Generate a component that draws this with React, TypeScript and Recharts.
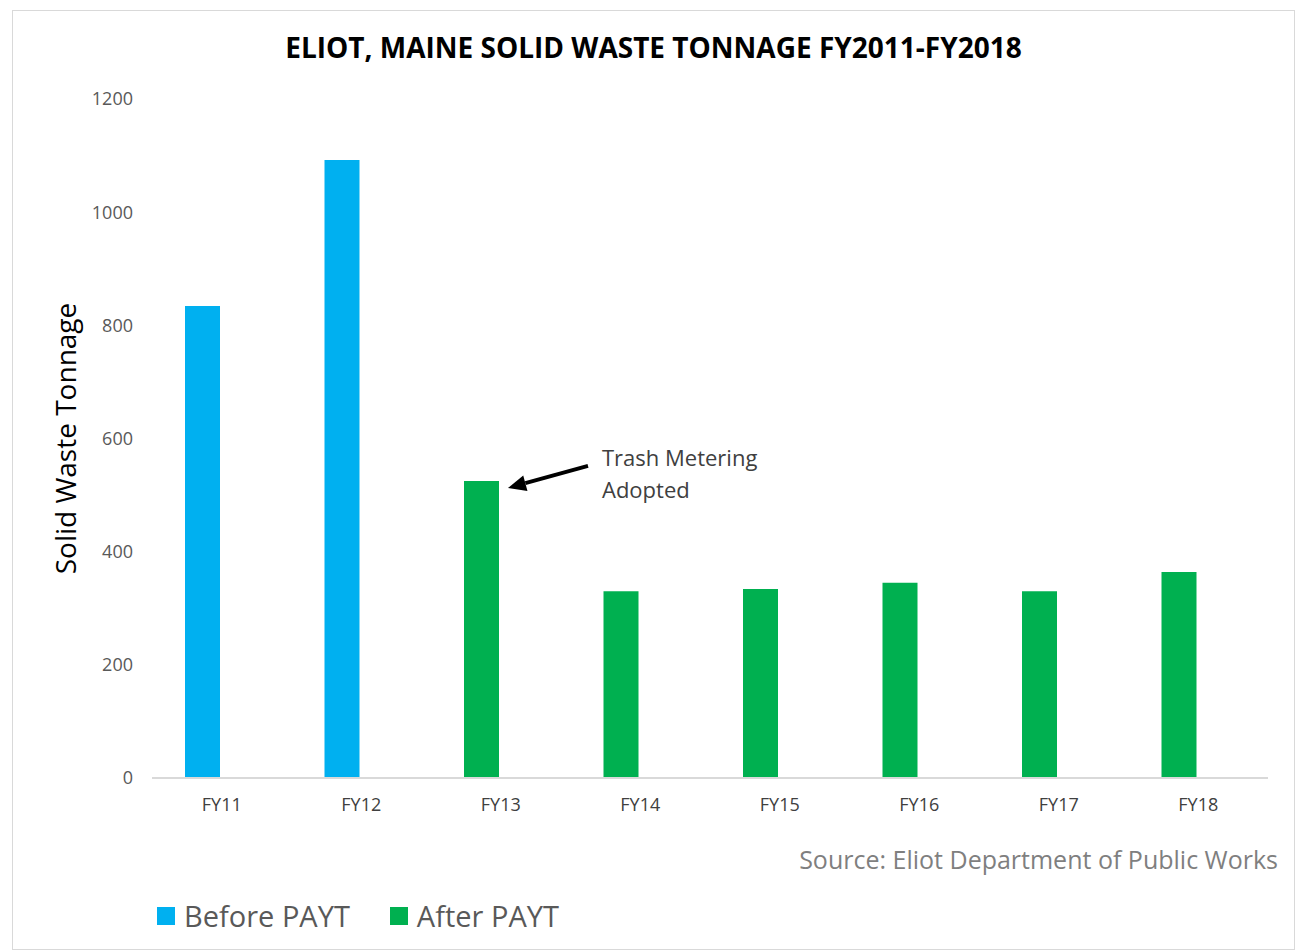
import React from "react";
import { Bar, BarChart, XAxis, YAxis, LabelList, Label } from "recharts";

const categories = ["FY11", "FY12", "FY13", "FY14", "FY15", "FY16", "FY17", "FY18"];
const beforePayt = [834, 1092, null, null, null, null, null, null];
const afterPayt = [null, null, 525, 330, 334, 345, 330, 364];
const yTicks = [0, 200, 400, 600, 800, 1000, 1200];
const annotatedCategory = "FY13";
const annotationLines = ["Trash Metering", "Adopted"];

const data = categories.map((name, i) => ({
  name,
  before: beforePayt[i],
  after: afterPayt[i],
}));

const FONT = "'Open Sans', sans-serif";
const BLUE = "#00b0f0";
const GREEN = "#00b050";

const legendItems = [
  { name: "Before PAYT", color: BLUE },
  { name: "After PAYT", color: GREEN },
];

const annotatedValue = afterPayt[categories.indexOf(annotatedCategory)];

// arrow + note pointing at the top-right corner of the annotated bar
function Annotation(props: any) {
  const { x, y, width, value } = props;
  if (value !== annotatedValue) return null;
  const tipX = x + width + 9;
  const tipY = y + 7;
  const tailX = x + width + 89;
  const tailY = y - 15;
  const dx = tipX - tailX;
  const dy = tipY - tailY;
  const len = Math.sqrt(dx * dx + dy * dy);
  const ux = dx / len;
  const uy = dy / len;
  const headLen = 18;
  const headW = 8;
  const bx = tipX - ux * headLen;
  const by = tipY - uy * headLen;
  const p1 = `${tipX},${tipY}`;
  const p2 = `${bx - uy * headW},${by + ux * headW}`;
  const p3 = `${bx + uy * headW},${by - ux * headW}`;
  return (
    <g>
      <line x1={tailX} y1={tailY} x2={bx} y2={by} stroke="#000" strokeWidth={4} />
      <polygon points={`${p1} ${p2} ${p3}`} fill="#000" />
      <text x={x + width + 103} y={y - 15} fontFamily={FONT} fontSize={22} fill="#404040">
        {annotationLines[0]}
      </text>
      <text x={x + width + 103} y={y + 17} fontFamily={FONT} fontSize={22} fill="#404040">
        {annotationLines[1]}
      </text>
    </g>
  );
}

export default function App() {
  return (
    <div
      style={{
        position: "absolute",
        left: 12,
        top: 10,
        width: 1281,
        height: 938,
        border: "1px solid #d9d9d9",
        background: "#fff",
        fontFamily: FONT,
      }}
    >
      <div
        style={{
          position: "absolute",
          left: 0,
          right: 0,
          top: 18,
          textAlign: "center",
          fontSize: 28,
          fontWeight: 700,
          color: "#000",
          lineHeight: "36px",
        }}
      >
        ELIOT, MAINE SOLID WASTE TONNAGE FY2011-FY2018
      </div>
      <BarChart
        width={1281}
        height={938}
        data={data}
        barGap={3}
        margin={{ top: 88, right: 26, bottom: 141, left: 0 }}
      >
        <XAxis
          dataKey="name"
          height={30}
          tickLine={false}
          tickSize={0}
          tickMargin={20}
          axisLine={{ stroke: "#d9d9d9", strokeWidth: 2 }}
          tick={{ fontFamily: FONT, fontSize: 18, fill: "#404040" }}
        />
        <YAxis
          width={139}
          domain={[0, 1200]}
          ticks={yTicks}
          axisLine={false}
          tickLine={false}
          tickSize={0}
          tickMargin={19}
          tick={{ fontFamily: FONT, fontSize: 18, fill: "#595959" }}
        >
          <Label
            content={(p: any) => {
              const vb = p.viewBox;
              const cx = vb.x + 52;
              const cy = vb.y + vb.height / 2;
              return (
                <text
                  x={cx}
                  y={cy}
                  transform={`rotate(-90 ${cx} ${cy})`}
                  textAnchor="middle"
                  dominantBaseline="central"
                  fontFamily={FONT}
                  fontSize={28}
                  fill="#000"
                >
                  Solid Waste Tonnage
                </text>
              );
            }}
          />
        </YAxis>
        <Bar dataKey="before" name="Before PAYT" stackId="a" fill={BLUE} barSize={35} isAnimationActive={false} />
        <Bar dataKey="after" name="After PAYT" stackId="a" fill={GREEN} barSize={35} isAnimationActive={false}>
          <LabelList dataKey="after" content={<Annotation />} />
        </Bar>
        <Bar dataKey="spacer" stackId="b" barSize={35} legendType="none" isAnimationActive={false} />
      </BarChart>
      <div
        style={{
          position: "absolute",
          right: 16,
          top: 831,
          fontSize: 25,
          color: "#7f7f7f",
          lineHeight: "34px",
        }}
      >
        Source: Eliot Department of Public Works
      </div>
      <div
        style={{
          position: "absolute",
          left: 144,
          top: 886,
          display: "flex",
          alignItems: "center",
        }}
      >
        {legendItems.map((it) => (
          <div key={it.name} style={{ display: "flex", alignItems: "center", marginRight: 40 }}>
            <span style={{ display: "inline-block", width: 18, height: 18, background: it.color, marginRight: 9 }} />
            <span style={{ fontSize: 29, color: "#595959", lineHeight: "38px" }}>{it.name}</span>
          </div>
        ))}
      </div>
    </div>
  );
}
